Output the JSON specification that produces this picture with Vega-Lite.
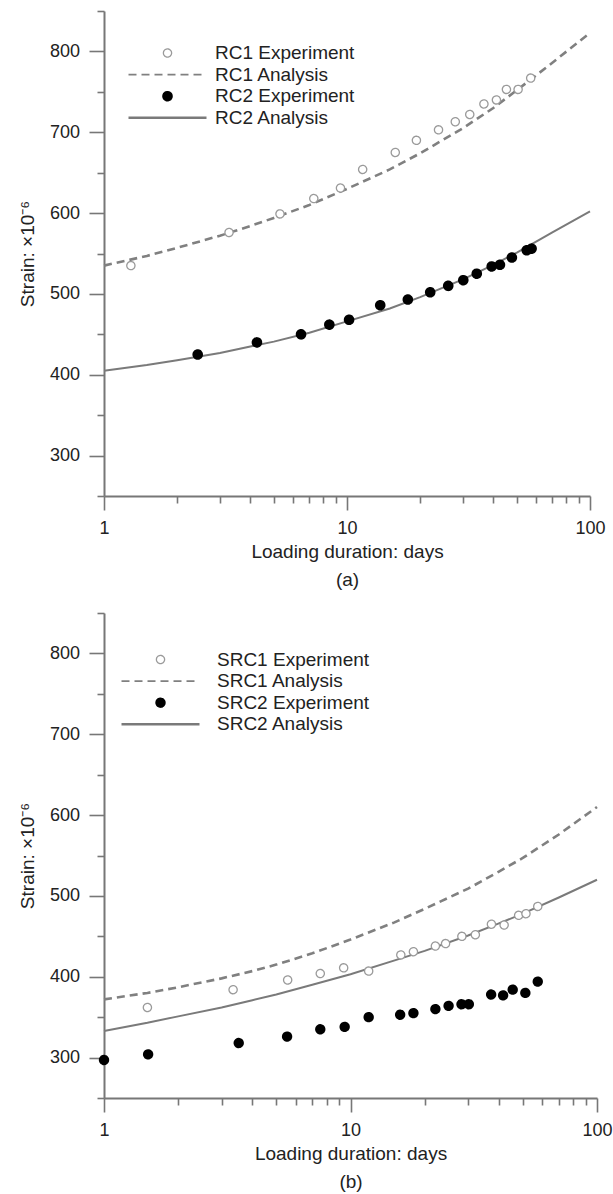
{
  "$schema": "https://vega.github.io/schema/vega-lite/v6.json",
  "background": "white",
  "padding": {"left": 18, "top": 2, "right": 5, "bottom": 2},
  "spacing": 15,
  "config": {
    "font": "Liberation Sans",
    "view": {"stroke": null},
    "axis": {
      "grid": false,
      "domainColor": "#777777",
      "domainWidth": 2,
      "tickColor": "#777777",
      "tickWidth": 1.6,
      "labelFont": "Liberation Sans",
      "labelFontSize": 18,
      "labelColor": "#222222",
      "titleFont": "Liberation Sans",
      "titleFontSize": 19,
      "titleFontWeight": "normal",
      "titleColor": "#222222",
      "labelOverlap": false,
      "labelFlush": false,
      "labelBound": false
    },
    "legend": {
      "labelFont": "Liberation Sans",
      "labelFontSize": 19,
      "labelColor": "#222222",
      "padding": 0,
      "symbolOffset": 0,
      "rowPadding": 1.6,
      "clipHeight": 19,
      "symbolSize": 6084
    }
  },
  "datasets": {
    "a": [
      {"series": "RC1 Experiment", "d": 1.29, "v": 535},
      {"series": "RC1 Experiment", "d": 3.27, "v": 576},
      {"series": "RC1 Experiment", "d": 5.3, "v": 599},
      {"series": "RC1 Experiment", "d": 7.3, "v": 618},
      {"series": "RC1 Experiment", "d": 9.4, "v": 631},
      {"series": "RC1 Experiment", "d": 11.6, "v": 654},
      {"series": "RC1 Experiment", "d": 15.8, "v": 675},
      {"series": "RC1 Experiment", "d": 19.3, "v": 690},
      {"series": "RC1 Experiment", "d": 23.8, "v": 703},
      {"series": "RC1 Experiment", "d": 27.9, "v": 713},
      {"series": "RC1 Experiment", "d": 32.0, "v": 722},
      {"series": "RC1 Experiment", "d": 36.6, "v": 735},
      {"series": "RC1 Experiment", "d": 41.2, "v": 740},
      {"series": "RC1 Experiment", "d": 45.3, "v": 753},
      {"series": "RC1 Experiment", "d": 50.6, "v": 753},
      {"series": "RC1 Experiment", "d": 57.0, "v": 767},
      {"series": "RC2 Experiment", "d": 2.43, "v": 425},
      {"series": "RC2 Experiment", "d": 4.26, "v": 440},
      {"series": "RC2 Experiment", "d": 6.47, "v": 450},
      {"series": "RC2 Experiment", "d": 8.46, "v": 462},
      {"series": "RC2 Experiment", "d": 10.2, "v": 468},
      {"series": "RC2 Experiment", "d": 13.7, "v": 486},
      {"series": "RC2 Experiment", "d": 17.8, "v": 493},
      {"series": "RC2 Experiment", "d": 22.0, "v": 502},
      {"series": "RC2 Experiment", "d": 26.1, "v": 510},
      {"series": "RC2 Experiment", "d": 30.1, "v": 517},
      {"series": "RC2 Experiment", "d": 34.2, "v": 525},
      {"series": "RC2 Experiment", "d": 39.4, "v": 534},
      {"series": "RC2 Experiment", "d": 42.6, "v": 536},
      {"series": "RC2 Experiment", "d": 47.7, "v": 545},
      {"series": "RC2 Experiment", "d": 54.9, "v": 554},
      {"series": "RC2 Experiment", "d": 57.5, "v": 556},
      {"series": "RC1 Analysis", "d": 1, "v": 535},
      {"series": "RC1 Analysis", "d": 1.5, "v": 547},
      {"series": "RC1 Analysis", "d": 2, "v": 557},
      {"series": "RC1 Analysis", "d": 3, "v": 572},
      {"series": "RC1 Analysis", "d": 4, "v": 584},
      {"series": "RC1 Analysis", "d": 5, "v": 594},
      {"series": "RC1 Analysis", "d": 7, "v": 610},
      {"series": "RC1 Analysis", "d": 10, "v": 630},
      {"series": "RC1 Analysis", "d": 15, "v": 654},
      {"series": "RC1 Analysis", "d": 20, "v": 674},
      {"series": "RC1 Analysis", "d": 30, "v": 705},
      {"series": "RC1 Analysis", "d": 40, "v": 730},
      {"series": "RC1 Analysis", "d": 50, "v": 752},
      {"series": "RC1 Analysis", "d": 70, "v": 786},
      {"series": "RC1 Analysis", "d": 100, "v": 823},
      {"series": "RC2 Analysis", "d": 1, "v": 405},
      {"series": "RC2 Analysis", "d": 1.5, "v": 412},
      {"series": "RC2 Analysis", "d": 2, "v": 418},
      {"series": "RC2 Analysis", "d": 3, "v": 427},
      {"series": "RC2 Analysis", "d": 4, "v": 435},
      {"series": "RC2 Analysis", "d": 5, "v": 441},
      {"series": "RC2 Analysis", "d": 7, "v": 452},
      {"series": "RC2 Analysis", "d": 10, "v": 466},
      {"series": "RC2 Analysis", "d": 15, "v": 482},
      {"series": "RC2 Analysis", "d": 20, "v": 496},
      {"series": "RC2 Analysis", "d": 30, "v": 518},
      {"series": "RC2 Analysis", "d": 40, "v": 536},
      {"series": "RC2 Analysis", "d": 50, "v": 551},
      {"series": "RC2 Analysis", "d": 70, "v": 576},
      {"series": "RC2 Analysis", "d": 100, "v": 602}
    ],
    "b": [
      {"series": "SRC1 Experiment", "d": 1.5, "v": 362},
      {"series": "SRC1 Experiment", "d": 3.34, "v": 384},
      {"series": "SRC1 Experiment", "d": 5.56, "v": 396},
      {"series": "SRC1 Experiment", "d": 7.54, "v": 404},
      {"series": "SRC1 Experiment", "d": 9.38, "v": 411},
      {"series": "SRC1 Experiment", "d": 11.85, "v": 407},
      {"series": "SRC1 Experiment", "d": 16.0, "v": 427},
      {"series": "SRC1 Experiment", "d": 18.0, "v": 431},
      {"series": "SRC1 Experiment", "d": 22.1, "v": 438},
      {"series": "SRC1 Experiment", "d": 24.3, "v": 441},
      {"series": "SRC1 Experiment", "d": 28.3, "v": 450},
      {"series": "SRC1 Experiment", "d": 32.1, "v": 452},
      {"series": "SRC1 Experiment", "d": 37.3, "v": 465},
      {"series": "SRC1 Experiment", "d": 42.0, "v": 464},
      {"series": "SRC1 Experiment", "d": 48.1, "v": 476},
      {"series": "SRC1 Experiment", "d": 51.5, "v": 478},
      {"series": "SRC1 Experiment", "d": 57.5, "v": 487},
      {"series": "SRC2 Experiment", "d": 1.0, "v": 297},
      {"series": "SRC2 Experiment", "d": 1.51, "v": 304},
      {"series": "SRC2 Experiment", "d": 3.52, "v": 318},
      {"series": "SRC2 Experiment", "d": 5.53, "v": 326},
      {"series": "SRC2 Experiment", "d": 7.54, "v": 335},
      {"series": "SRC2 Experiment", "d": 9.47, "v": 338},
      {"series": "SRC2 Experiment", "d": 11.85, "v": 350},
      {"series": "SRC2 Experiment", "d": 15.9, "v": 353},
      {"series": "SRC2 Experiment", "d": 18.0, "v": 355},
      {"series": "SRC2 Experiment", "d": 22.1, "v": 360},
      {"series": "SRC2 Experiment", "d": 25.0, "v": 364},
      {"series": "SRC2 Experiment", "d": 28.2, "v": 366},
      {"series": "SRC2 Experiment", "d": 30.2, "v": 366},
      {"series": "SRC2 Experiment", "d": 37.2, "v": 378},
      {"series": "SRC2 Experiment", "d": 41.6, "v": 377},
      {"series": "SRC2 Experiment", "d": 45.5, "v": 384},
      {"series": "SRC2 Experiment", "d": 51.2, "v": 380},
      {"series": "SRC2 Experiment", "d": 57.5, "v": 394},
      {"series": "SRC1 Analysis", "d": 1, "v": 372},
      {"series": "SRC1 Analysis", "d": 1.5, "v": 380},
      {"series": "SRC1 Analysis", "d": 2, "v": 387},
      {"series": "SRC1 Analysis", "d": 3, "v": 398},
      {"series": "SRC1 Analysis", "d": 4, "v": 407},
      {"series": "SRC1 Analysis", "d": 5, "v": 415},
      {"series": "SRC1 Analysis", "d": 7, "v": 429},
      {"series": "SRC1 Analysis", "d": 10, "v": 446},
      {"series": "SRC1 Analysis", "d": 15, "v": 467},
      {"series": "SRC1 Analysis", "d": 20, "v": 484},
      {"series": "SRC1 Analysis", "d": 30, "v": 509},
      {"series": "SRC1 Analysis", "d": 40, "v": 530},
      {"series": "SRC1 Analysis", "d": 50, "v": 547},
      {"series": "SRC1 Analysis", "d": 70, "v": 576},
      {"series": "SRC1 Analysis", "d": 100, "v": 610},
      {"series": "SRC2 Analysis", "d": 1, "v": 333},
      {"series": "SRC2 Analysis", "d": 1.5, "v": 343},
      {"series": "SRC2 Analysis", "d": 2, "v": 351},
      {"series": "SRC2 Analysis", "d": 3, "v": 362},
      {"series": "SRC2 Analysis", "d": 4, "v": 371},
      {"series": "SRC2 Analysis", "d": 5, "v": 378},
      {"series": "SRC2 Analysis", "d": 7, "v": 390},
      {"series": "SRC2 Analysis", "d": 10, "v": 403},
      {"series": "SRC2 Analysis", "d": 15, "v": 420},
      {"series": "SRC2 Analysis", "d": 20, "v": 432},
      {"series": "SRC2 Analysis", "d": 30, "v": 451},
      {"series": "SRC2 Analysis", "d": 40, "v": 466},
      {"series": "SRC2 Analysis", "d": 50, "v": 478},
      {"series": "SRC2 Analysis", "d": 70, "v": 498},
      {"series": "SRC2 Analysis", "d": 100, "v": 520}
    ]
  },
  "resolve": {
    "scale": {"x": "independent", "y": "independent", "shape": "independent", "fill": "independent", "stroke": "independent", "strokeDash": "independent", "strokeWidth": "independent"},
    "legend": {"shape": "independent", "fill": "independent", "stroke": "independent", "strokeDash": "independent", "strokeWidth": "independent"}
  },
  "vconcat": [
    {
      "width": 486,
      "height": 485,
      "data": {"name": "a"},
      "encoding": {
        "x": {"field": "d", "type": "quantitative", "scale": {"type": "log", "domain": [1, 100]},
          "axis": {"values": [1,2,3,4,5,6,7,8,9,10,20,30,40,50,60,70,80,90,100],
            "labelExpr": "(datum.value == 1 || datum.value == 10 || datum.value == 100) ? format(datum.value, 'd') : ''",
            "tickSize": {"condition": {"test": "datum.value == 1 || datum.value == 10 || datum.value == 100", "value": 14}, "value": 7},
            "labelPadding": 9, "title": ["Loading duration: days", "(a)"], "titleLineHeight": 28, "titlePadding": 5}},
        "y": {"field": "v", "type": "quantitative", "scale": {"domain": [250, 850], "zero": false, "nice": false},
          "axis": {"values": [250,300,350,400,450,500,550,600,650,700,750,800,850],
            "labelExpr": "(datum.value % 100 == 0 && datum.value >= 300 && datum.value <= 800) ? datum.label : ''",
            "tickSize": {"condition": {"test": "datum.value % 100 == 0 && datum.value >= 300 && datum.value <= 800", "value": 15}, "value": 7},
            "labelPadding": 9.5, "title": "Strain: ×10⁻⁶", "titlePadding": 12}}
      },
      "layer": [
        {"transform": [{"filter": "datum.series == 'RC1 Analysis'"}],
         "mark": {"type": "line", "stroke": "#808080", "strokeWidth": 2.6, "strokeDash": [8, 5]}},
        {"transform": [{"filter": "datum.series == 'RC2 Analysis'"}],
         "mark": {"type": "line", "stroke": "#7a7a7a", "strokeWidth": 2}},
        {"transform": [{"filter": "datum.series == 'RC1 Experiment' || datum.series == 'RC2 Experiment'"}],
         "mark": {"type": "point", "filled": true, "opacity": 1, "size": 6084},
         "encoding": {
           "shape": {"field": "series", "type": "nominal",
             "scale": {"domain": ["RC1 Experiment", "RC1 Analysis", "RC2 Experiment", "RC2 Analysis"],
               "range": ["M-0.105,0A0.105,0.105,0,1,0,0.105,0A0.105,0.105,0,1,0,-0.105,0Z", "stroke", "M-0.108,0A0.108,0.108,0,1,0,0.108,0A0.108,0.108,0,1,0,-0.108,0Z", "stroke"]},
             "legend": {"title": null, "orient": "none", "legendX": 23, "legendY": 32.5, "labelOffset": 7}},
           "fill": {"field": "series", "type": "nominal",
             "scale": {"domain": ["RC1 Experiment", "RC1 Analysis", "RC2 Experiment", "RC2 Analysis"], "range": ["white", "transparent", "black", "transparent"]}},
           "stroke": {"field": "series", "type": "nominal",
             "scale": {"domain": ["RC1 Experiment", "RC1 Analysis", "RC2 Experiment", "RC2 Analysis"], "range": ["#9a9a9a", "#808080", "#000000", "#7a7a7a"]}},
           "strokeDash": {"field": "series", "type": "nominal",
             "scale": {"domain": ["RC1 Experiment", "RC1 Analysis", "RC2 Experiment", "RC2 Analysis"], "range": [[1, 0], [8, 5], [1, 0], [1, 0]]}},
           "strokeWidth": {"field": "series", "type": "nominal",
             "scale": {"domain": ["RC1 Experiment", "RC1 Analysis", "RC2 Experiment", "RC2 Analysis"], "range": [1.3, 2.6, 1, 2]}}
         }}
      ]
    },
    {
      "width": 493,
      "height": 485,
      "data": {"name": "b"},
      "encoding": {
        "x": {"field": "d", "type": "quantitative", "scale": {"type": "log", "domain": [1, 100]},
          "axis": {"values": [1,2,3,4,5,6,7,8,9,10,20,30,40,50,60,70,80,90,100],
            "labelExpr": "(datum.value == 1 || datum.value == 10 || datum.value == 100) ? format(datum.value, 'd') : ''",
            "tickSize": {"condition": {"test": "datum.value == 1 || datum.value == 10 || datum.value == 100", "value": 14}, "value": 7},
            "labelPadding": 9, "title": ["Loading duration: days", "(b)"], "titleLineHeight": 28, "titlePadding": 5}},
        "y": {"field": "v", "type": "quantitative", "scale": {"domain": [250, 850], "zero": false, "nice": false},
          "axis": {"values": [250,300,350,400,450,500,550,600,650,700,750,800,850],
            "labelExpr": "(datum.value % 100 == 0 && datum.value >= 300 && datum.value <= 800) ? datum.label : ''",
            "tickSize": {"condition": {"test": "datum.value % 100 == 0 && datum.value >= 300 && datum.value <= 800", "value": 15}, "value": 7},
            "labelPadding": 9.5, "title": "Strain: ×10⁻⁶", "titlePadding": 12}}
      },
      "layer": [
        {"transform": [{"filter": "datum.series == 'SRC1 Analysis'"}],
         "mark": {"type": "line", "stroke": "#808080", "strokeWidth": 2.6, "strokeDash": [8, 5]}},
        {"transform": [{"filter": "datum.series == 'SRC2 Analysis'"}],
         "mark": {"type": "line", "stroke": "#7a7a7a", "strokeWidth": 2}},
        {"transform": [{"filter": "datum.series == 'SRC1 Experiment' || datum.series == 'SRC2 Experiment'"}],
         "mark": {"type": "point", "filled": true, "opacity": 1, "size": 6084},
         "encoding": {
           "shape": {"field": "series", "type": "nominal",
             "scale": {"domain": ["SRC1 Experiment", "SRC1 Analysis", "SRC2 Experiment", "SRC2 Analysis"],
               "range": ["M-0.105,0A0.105,0.105,0,1,0,0.105,0A0.105,0.105,0,1,0,-0.105,0Z", "stroke", "M-0.105,0A0.105,0.105,0,1,0,0.105,0A0.105,0.105,0,1,0,-0.105,0Z", "stroke"]},
             "legend": {"title": null, "orient": "none", "legendX": 16, "legendY": 37, "labelOffset": 16}},
           "fill": {"field": "series", "type": "nominal",
             "scale": {"domain": ["SRC1 Experiment", "SRC1 Analysis", "SRC2 Experiment", "SRC2 Analysis"], "range": ["white", "transparent", "black", "transparent"]}},
           "stroke": {"field": "series", "type": "nominal",
             "scale": {"domain": ["SRC1 Experiment", "SRC1 Analysis", "SRC2 Experiment", "SRC2 Analysis"], "range": ["#9a9a9a", "#808080", "#000000", "#7a7a7a"]}},
           "strokeDash": {"field": "series", "type": "nominal",
             "scale": {"domain": ["SRC1 Experiment", "SRC1 Analysis", "SRC2 Experiment", "SRC2 Analysis"], "range": [[1, 0], [8, 5], [1, 0], [1, 0]]}},
           "strokeWidth": {"field": "series", "type": "nominal",
             "scale": {"domain": ["SRC1 Experiment", "SRC1 Analysis", "SRC2 Experiment", "SRC2 Analysis"], "range": [1.3, 2.6, 1, 2]}}
         }}
      ]
    }
  ]
}
